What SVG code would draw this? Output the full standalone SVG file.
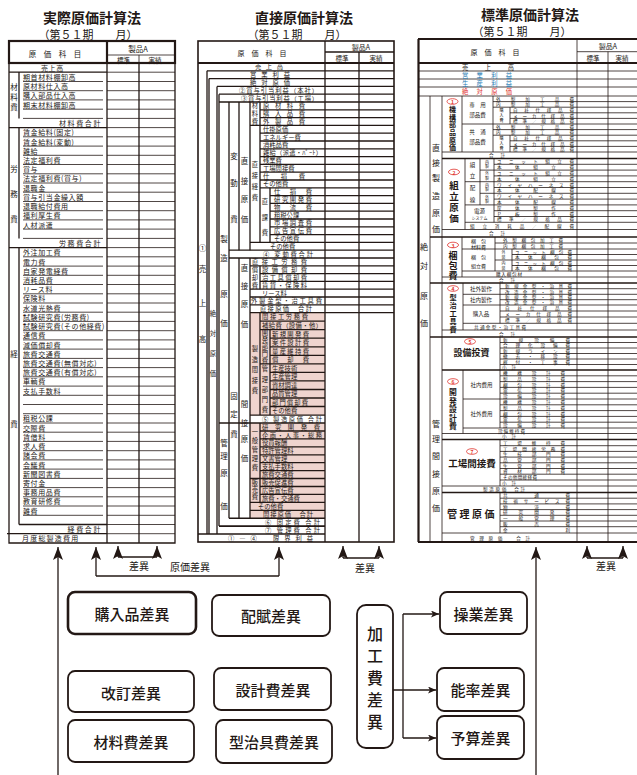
<svg xmlns="http://www.w3.org/2000/svg" width="637" height="775" viewBox="0 0 637 775">
<defs>
<style>
text{font-family:"Noto Sans CJK JP","Noto Sans",sans-serif;fill:#231815;dominant-baseline:central}
.vt{writing-mode:vertical-rl;text-anchor:start}
.ttl{font-size:14px;font-weight:bold;text-anchor:middle}
.sub{font-size:11px;text-anchor:middle}
.h{font-size:7px;text-anchor:middle}
.l{font-size:7px;letter-spacing:0.6px}
.tot{font-size:7px;letter-spacing:1.6px;text-anchor:end}
.m{font-size:6.3px}
.v{font-size:7.5px;text-anchor:middle}
.vs{font-size:6.3px;text-anchor:middle}
.r{font-size:4.6px}
.rc{font-size:5px;text-anchor:middle}
.rt{font-size:6.3px}
.rb{font-weight:bold;text-anchor:middle}
.rs{font-size:5.5px;text-anchor:middle}
.tiny{font-size:4px;text-anchor:middle}
.num{font-size:5px;font-weight:bold;fill:#e0332d;text-anchor:middle}
.oval{fill:#fff;stroke:#e0332d;stroke-width:0.8}
.ln{stroke:#231815;stroke-width:0.8;fill:none}
.lm{stroke:#231815;stroke-width:1.3;fill:none}
.lb{stroke:#231815;stroke-width:1.6;fill:none}
.lx{stroke:#231815;stroke-width:2.2;fill:none}
.box{fill:#fff;stroke:#231815;stroke-width:1.8}
.bt{font-size:15px;font-weight:500;text-anchor:middle}
.lab{font-size:10px;text-anchor:middle}
.con{stroke:#231815;stroke-width:1.3;fill:none}
.pink{fill:#efd4ce}
</style>
<marker id="au" viewBox="0 -5 13 10" refX="13" refY="0" markerWidth="13" markerHeight="10" markerUnits="userSpaceOnUse" orient="auto"><path d="M0,-5 L13,0 L0,5 L3,0 Z" fill="#231815"/></marker>
<marker id="ar" viewBox="0 -3.5 8 7" refX="8" refY="0" markerWidth="8" markerHeight="7" markerUnits="userSpaceOnUse" orient="auto"><path d="M0,-3.5 L8,0 L0,3.5 L2,0 Z" fill="#231815"/></marker>
</defs>
<rect width="637" height="775" fill="#fff"/>

<!-- ===== LEFT TABLE ===== -->
<g id="actual-cost-table">
<text class="ttl" x="92" y="17">実際原価計算法</text>
<text class="sub" x="88" y="34">（第５１期　　月）</text>
<rect x="9" y="41" width="166" height="22" class="lx"/>
<path class="lx" d="M107 41V63"/>
<path class="ln" d="M107 55H175M139 55V63"/>
<path class="lm" d="M9 63V543H175V63M107 63V543M139 63V543"/>
<text class="h" x="55" y="53" style="font-size:7.5px">原　価　科　目</text>
<text class="h" x="138" y="48" style="font-size:7.5px">製品A</text>
<text class="h" x="123.5" y="59.5" style="font-size:6.5px">標準</text>
<text class="h" x="155" y="59.5" style="font-size:6.5px">実績</text>
<path class="ln" d="M107 72.2H175M107 81.5H175M107 90.7H175M107 99.9H175M107 109.2H175M107 118.4H175M107 127.6H175M107 136.8H175M107 146.1H175M107 155.3H175M107 164.5H175M107 173.8H175M107 183H175M107 192.2H175M107 201.5H175M107 210.7H175M107 219.9H175M107 229.1H175M107 238.4H175M107 247.6H175M107 256.8H175M107 266.1H175M107 275.3H175M107 284.5H175M107 293.8H175M107 303H175M107 312.2H175M107 321.4H175M107 330.7H175M107 339.9H175M107 349.1H175M107 358.4H175M107 367.6H175M107 376.8H175M107 386.1H175M107 395.3H175M107 404.5H175M107 413.7H175M107 423H175M107 432.2H175M107 441.4H175M107 450.7H175M107 459.9H175M107 469.1H175M107 478.4H175M107 487.6H175M107 496.8H175M107 506H175M107 515.3H175M107 524.5H175M107 533.7H175"/>
<path class="lm" d="M9 72.2H107M9 127.6H107M9 247.6H107M19 524.5H107M7 533.7H107M19 72.2V118.4M19 127.6V238.4M19 247.6V524.5"/>
<path class="ln" d="M23 81.5H103M23 90.7H103M23 99.9H103M23 109.2H103M23 118.4H103M23 136.8H103M23 146.1H103M23 155.3H103M23 164.5H103M23 173.8H103M23 183H103M23 192.2H103M23 201.5H103M23 210.7H103M23 219.9H103M23 229.1H103M23 238.4H103M23 256.8H103M23 266.1H103M23 275.3H103M23 284.5H103M23 293.8H103M23 303H103M23 312.2H103M23 321.4H103M23 330.7H103M23 339.9H103M23 349.1H103M23 358.4H103M23 367.6H103M23 376.8H103M23 386.1H103M23 395.3H103M23 404.5H103M23 413.7H103M23 423H103M23 432.2H103M23 441.4H103M23 450.7H103M23 459.9H103M23 469.1H103M23 478.4H103M23 487.6H103M23 496.8H103M23 506H103M23 515.3H103"/>
<text class="l" x="41" y="67.6">売上高</text>
<text class="vt" x="14" y="83.3" style="font-size:7.5px;letter-spacing:2.5px">材料費</text>
<text class="v" x="14" y="168">労</text><text class="v" x="14" y="193">務</text><text class="v" x="14" y="218">費</text>
<text class="v" x="14" y="353">経</text><text class="v" x="14" y="423">費</text>
<text class="l" x="23" y="76.8">期首材料棚卸高</text>
<text class="l" x="23" y="86.1">原材料仕入高</text>
<text class="l" x="23" y="95.3">購入部品仕入高</text>
<text class="l" x="23" y="104.5">期末材料棚卸高</text>
<text class="tot" x="102" y="123">材料費合計</text>
<text class="l" x="23" y="132.2">賃金給料(固定)</text>
<text class="l" x="23" y="141.5">賃金給料(変動)</text>
<text class="l" x="23" y="150.7">雑給</text>
<text class="l" x="23" y="159.9">法定福利費</text>
<text class="l" x="23" y="169.2">賞与</text>
<text class="l" x="23" y="178.4">法定福利費(賞与)</text>
<text class="l" x="23" y="187.6">退職金</text>
<text class="l" x="23" y="196.8">賞与引当金繰入額</text>
<text class="l" x="23" y="206.1">退職給付費用</text>
<text class="l" x="23" y="215.3">福利厚生費</text>
<text class="l" x="23" y="224.5">人材派遣</text>
<text class="tot" x="102" y="243">労務費合計</text>
<text class="l" x="23" y="252.2">外注加工費</text>
<text class="l" x="23" y="261.5">電力費</text>
<text class="l" x="23" y="270.7">自家発電経費</text>
<text class="l" x="23" y="279.9">消耗品費</text>
<text class="l" x="23" y="289.1">リース料</text>
<text class="l" x="23" y="298.4">保険料</text>
<text class="l" x="23" y="307.6">水道光熱費</text>
<text class="l" x="23" y="316.8">試験研究費(労務費)</text>
<text class="l" x="23" y="326.1">試験研究費(その他経費)</text>
<text class="l" x="23" y="335.3">通信費</text>
<text class="l" x="23" y="344.5">減価償却費</text>
<text class="l" x="23" y="353.8">旅費交通費</text>
<text class="l" x="23" y="363">旅費交通費(無償対応)</text>
<text class="l" x="23" y="372.2">旅費交通費(有償対応)</text>
<text class="l" x="23" y="381.4">車輌費</text>
<text class="l" x="23" y="390.7">支払手数料</text>
<text class="l" x="23" y="418.4">租税公課</text>
<text class="l" x="23" y="427.6">交際費</text>
<text class="l" x="23" y="436.8">賃借料</text>
<text class="l" x="23" y="446.1">求人費</text>
<text class="l" x="23" y="455.3">諸会費</text>
<text class="l" x="23" y="464.5">会議費</text>
<text class="l" x="23" y="473.8">新聞図書費</text>
<text class="l" x="23" y="483">寄付金</text>
<text class="l" x="23" y="492.2">事務用品費</text>
<text class="l" x="23" y="501.4">教育研修費</text>
<text class="l" x="23" y="510.7">雑費</text>
<text class="tot" x="102" y="529.1">経費合計</text>
<text class="l" x="22" y="538.4" style="letter-spacing:1.2px">月度総製造費用</text>
</g>

<!-- ===== MIDDLE TABLE ===== -->
<g id="direct-cost-table">
<text class="ttl" x="304" y="17">直接原価計算法</text>
<text class="sub" x="297" y="34">（第５１期　　月）</text>
<rect class="pink" x="250" y="312.6" width="75" height="102.5"/>
<rect class="pink" x="250" y="423" width="75" height="95.2"/>
<rect x="198" y="41" width="196" height="501" class="lb"/>
<path class="lx" d="M198 63H394"/>
<path class="lm" d="M325 41V542M359 52V542M325 52H394"/>
<path class="lm" d="M207 70.8H394M209 78.6H394M217 86.4H394M219 94.2H394M219 102H394M260 109.8H394M260 117.6H394M250 125.4H394M260 133.2H394M260 141H394M260 148.8H394M260 156.6H394M260 164.4H394M260 172.2H394M260 180H394M260 187.8H394M270 195.6H394M270 203.4H394M270 211.2H394M270 219H394M270 226.8H394M270 234.6H394M250 242.4H394M229 250.2H394M229 258H394M250 265.8H394M260 273.6H394M260 281.4H394M250 289.2H394M250 297H394M250 304.8H394M250 312.6H394M260 321.1H325M260 329.7H325M270 338.2H325M270 346.8H325M270 355.3H325M260 363.8H325M270 372.4H325M270 380.9H325M270 389.5H325M270 398H325M270 406.5H325M250 415.1H325M219 423H325M260 431H325M260 438.9H325M260 446.8H325M260 454.8H325M260 462.7H325M260 470.6H325M250 478.5H325M260 486.5H325M260 494.4H325M250 502.3H325M250 510.3H325"/>
<path class="lb" d="M229 518.2H325M219 526.1H325M198 534H325"/>
<path class="lm" d="M207 70.8V534M209 78.6V534M217 86.4V534M219 94.2V526.1M229 102V518.2M239 102V250.2M239 258V518.2M250 102V250.2M250 258V518.2M260 102V242.4M260 265.8V289.2M260 312.6V415.1M260 423V502.3M270 187.8V242.4M270 329.7V415.1"/>
<text class="h" x="262" y="52.5">原　価　科　目</text>
<text class="h" x="361" y="46.5">製品A</text>
<text class="h" x="342" y="57.5" style="font-size:6.5px">標準</text>
<text class="h" x="376" y="57.5" style="font-size:6.5px">実績</text>
<!-- vertical labels -->
<text class="v" x="202.5" y="247">①</text><text class="v" x="202.5" y="268">売</text><text class="v" x="202.5" y="302">上</text><text class="v" x="202.5" y="338">高</text>
<text class="vs" x="213" y="313">絶</text><text class="vs" x="213" y="333">対</text><text class="vs" x="213" y="353">原</text><text class="vs" x="213" y="373">価</text>
<text class="v" x="224" y="238">製</text><text class="v" x="224" y="257">造</text><text class="v" x="224" y="293">原</text><text class="v" x="224" y="322">価</text>
<text class="v" x="224" y="442">管</text><text class="v" x="224" y="455">理</text><text class="v" x="224" y="472">原</text><text class="v" x="224" y="505">価</text>
<text class="v" x="234" y="155">変</text><text class="v" x="234" y="182">動</text><text class="v" x="234" y="218">費</text>
<text class="v" x="234" y="395">固</text><text class="v" x="234" y="413">定</text><text class="v" x="234" y="433">費</text>
<text class="v" x="244.5" y="160">直</text><text class="v" x="244.5" y="180">接</text><text class="v" x="244.5" y="198">原</text><text class="v" x="244.5" y="218">価</text>
<text class="v" x="244.5" y="267">直</text><text class="v" x="244.5" y="285">接</text><text class="v" x="244.5" y="303">原</text><text class="v" x="244.5" y="323">価</text>
<text class="v" x="244.5" y="403">間</text><text class="v" x="244.5" y="422">接</text><text class="v" x="244.5" y="438">原</text><text class="v" x="244.5" y="457">価</text>
<g style="font-size:6.3px">
<text class="vt" x="255" y="102.85" style="letter-spacing:1.45px">材料費</text>
<text class="vt" x="255" y="161.85" style="letter-spacing:4.7px">直接経費</text>
<text class="vt" x="265" y="198.85" style="letter-spacing:9.2px">直課費</text>
<text class="vt" x="255" y="266.85" style="letter-spacing:1.45px">償却費</text>
<text class="vt" x="255" y="345.85" style="letter-spacing:4.2px">製造間接費</text>
<text class="vt" x="265" y="329.85" style="letter-spacing:0.7px">開発部門費</text>
<text class="vt" x="265" y="365.85" style="letter-spacing:3.95px">管理部門費</text>
<text class="vt" x="255" y="428.85" style="letter-spacing:2.7px">一般管理費</text>
<text class="vt" x="255" y="479.85" style="letter-spacing:0.7px">販売費</text>
</g>
<!-- rows -->
<text class="m" x="255" y="66.9" textLength="28">売上高</text>
<text class="m" x="250" y="74.7" textLength="40">営業利益</text>
<text class="m" x="250" y="82.5" textLength="40">絶対原価</text>
<text class="m" x="239" y="90.3" textLength="79">②賞与引当利益（本社）</text>
<text class="m" x="241" y="98.1" textLength="77">③賞与引当利益（工場）</text>
<text class="m" x="263" y="105.9" textLength="42">原材料費</text>
<text class="m" x="263" y="113.7" textLength="42">購入品費</text>
<text class="m" x="263" y="121.5" textLength="42">外製品費</text>
<text class="m" x="263" y="129.3">仕掛原価</text>
<text class="m" x="263" y="137.1">エネルギー費</text>
<text class="m" x="263" y="144.9">消耗品費</text>
<text class="m" x="263" y="152.7" textLength="59">雑給（派遣・ﾊﾟｰﾄ）</text>
<text class="m" x="263" y="160.5">残業費</text>
<text class="m" x="263" y="168.3">工場間接費</text>
<text class="m" x="263" y="176.1" textLength="42">仕損費</text>
<text class="m" x="263" y="183.9">その他費</text>
<text class="m" x="274" y="191.7" textLength="38">仕損費</text>
<text class="m" x="274" y="199.5" textLength="38">研究開発費</text>
<text class="m" x="274" y="207.3" textLength="38">物流費</text>
<text class="m" x="274" y="215.1">租税公課</text>
<text class="m" x="274" y="222.9" textLength="38">市場調査費</text>
<text class="m" x="274" y="230.7" textLength="38">広告宣伝費</text>
<text class="m" x="274" y="238.5">その他費</text>
<text class="m" x="270" y="246.3">その他費</text>
<text class="m" x="263" y="254.1" textLength="50">④ 変動費合計</text>
<text class="m" x="252" y="261.9" textLength="55">直接工労務費</text>
<text class="m" x="262" y="269.7" textLength="45">設備償却費</text>
<text class="m" x="262" y="277.5" textLength="45">治工具償却費</text>
<text class="m" x="262" y="285.3" textLength="45">賃貸・保険料</text>
<text class="m" x="262" y="293.1">リース料</text>
<text class="m" x="251" y="300.9" textLength="71">外製金型・治工具費</text>
<text class="m" x="260" y="308.7" textLength="52">直接原価　合計</text>
<text class="m" x="262" y="316.9" textLength="46">間接工労務費</text>
<text class="m" x="262" y="325.4" textLength="60">補給費（設備・他）</text>
<text class="m" x="272" y="334" textLength="37">新規開発費</text>
<text class="m" x="272" y="342.5" textLength="37">案件設計費</text>
<text class="m" x="272" y="351" textLength="37">量産維持費</text>
<text class="m" x="272" y="359.6" textLength="37">償却費</text>
<text class="m" x="272" y="368.1">生産技術</text>
<text class="m" x="272" y="376.7">生産管理</text>
<text class="m" x="272" y="385.2">資材調達</text>
<text class="m" x="272" y="393.7">品質管理</text>
<text class="m" x="272" y="402.3" textLength="36">部門償却費</text>
<text class="m" x="272" y="410.8">その他費</text>
<text class="m" x="262" y="419.1" textLength="60">⑤ 製造原価 合計</text>
<text class="m" x="262" y="427" textLength="58">研究開発費</text>
<text class="m" x="262" y="435" textLength="60">企画・人事・総務</text>
<text class="m" x="262" y="442.9">役員報酬</text>
<text class="m" x="262" y="450.8">特許管理料</text>
<text class="m" x="262" y="458.8">文書管理</text>
<text class="m" x="262" y="466.7">支払手数料</text>
<text class="m" x="262" y="474.6">旅費交通費</text>
<text class="m" x="262" y="482.5">販売促進費</text>
<text class="m" x="262" y="490.5">広告宣伝費</text>
<text class="m" x="262" y="498.4">旅費・交通費</text>
<text class="m" x="258" y="506.3">その他費</text>
<text class="m" x="263" y="514.2" textLength="50">間接原価　合計</text>
<text class="m" x="265" y="522.2" textLength="55">⑥ 固定費 合計</text>
<text class="m" x="265" y="530.1" textLength="55">⑦ 管理費 合計</text>
<text class="m" x="228" y="538" textLength="85">①―④　限界利益</text>
</g>

<!-- ===== RIGHT TABLE ===== -->
<g id="standard-cost-table">
<text class="ttl" x="530" y="14">標準原価計算法</text>
<text class="sub" x="522" y="31">（第５１期　　月）</text>
<path class="lx" d="M418.5 39V542M418 39H637M418 63H637M418 542H637"/>
<path class="ln" d="M577 51.7H637M577 39V542M608 51.7V542M430 96V542M442 96V542"/>
<path class="ln" d="M418 71H637M418 79H637M418 87H637M418 96H637M493 101.6H637M493 107.2H637M510 112.8H637M510 118.4H637M462 124H637M493 129.6H637M493 135.2H637M510 140.8H637M510 146.4H637M442 152H637M494 164.3H637M480 170.1H637M494 175.9H637M465 181.7H637M494 187.5H637M480 193.3H637M494 199.1H637M465 204.9H637M494 210.7H637M494 216.5H637M465 222.3H637M442 229.5H637M495 243H637M462 249H637M512 254.5H637M495 260H637M512 265.5H637M462 271H637M442 277H637M500 288.7H637M463 294.3H637M500 299.7H637M463 305H637M500 311H637M500 317H637M463 323.3H637M442 330H637M500 342.5H637M500 348H637M500 353.5H637M500 359H637M500 364.5H637M500 375.8H637M500 381.6H637M500 387.4H637M500 393.2H637M463 399H637M500 404.8H637M500 410.6H637M500 416.4H637M500 422.2H637M463 428H637M442 433.5H637M500 445.7H637M500 451.4H637M500 457.1H637M500 462.8H637M500 468.5H637M500 474.2H637M500 480H637M442 486H637M500 498.2H637M500 503.9H637M500 509.6H637M500 515.3H637M500 521H637M500 526.7H637M442 533H637"/>
<path class="lm" d="M442 158.5H637M430 237H637M430 283H637M430 337H637M442 370H637M442 439.5H637M442 492.5H637"/>
<path class="ln" d="M462 96V152M493 96V152M510 107.2V124M510 135.2V152M465 158.5V229.5M480 158.5V204.9M494 158.5V222.3M462 237V277M495 237V271M512 249V271M463 283V330M500 283V323.3M500 337V370M463 370V433.5M500 370V428M500 439.5V486M500 492.5V533"/>
<text class="h" x="495" y="52">原　価　科　目</text>
<text class="h" x="608" y="45.5">製品A</text>
<text class="h" x="593" y="57.5" style="font-size:6.5px">標準</text>
<text class="h" x="622" y="57.5" style="font-size:6.5px">実績</text>
<text class="rt" x="462" y="67" textLength="52">売上高</text>
<text class="rt" x="462" y="75" textLength="50" style="fill:#2a7db5">営業利益</text>
<text class="rt" x="462" y="83" textLength="50" style="fill:#2a7db5">生産利益</text>
<text class="rt" x="462" y="91" textLength="50" style="fill:#e0332d">絶対原価</text>
<!-- big vertical labels -->
<text class="v" x="424" y="246" style="font-size:8px">絶</text><text class="v" x="424" y="265" style="font-size:8px">対</text><text class="v" x="424" y="295" style="font-size:8px">原</text><text class="v" x="424" y="322" style="font-size:8px">価</text>
<text class="v" x="436" y="147" style="font-size:8px">直</text><text class="v" x="436" y="162" style="font-size:8px">接</text><text class="v" x="436" y="177" style="font-size:8px">製</text><text class="v" x="436" y="195" style="font-size:8px">造</text><text class="v" x="436" y="212" style="font-size:8px">原</text><text class="v" x="436" y="228" style="font-size:8px">価</text>
<text class="v" x="436" y="423" style="font-size:8px">管</text><text class="v" x="436" y="438" style="font-size:8px">理</text><text class="v" x="436" y="455" style="font-size:8px">間</text><text class="v" x="436" y="473" style="font-size:8px">接</text><text class="v" x="436" y="490" style="font-size:8px">原</text><text class="v" x="436" y="507" style="font-size:8px">価</text>
<!-- block labels -->
<ellipse class="oval" cx="452.5" cy="101.5" rx="5.5" ry="2.8"/><text class="num" x="452.5" y="101.6">1</text>
<text class="vt" x="452.5" y="106" style="font-size:7px;font-weight:bold;letter-spacing:0.6px">機構部品原価</text>
<ellipse class="oval" cx="454" cy="172" rx="5.5" ry="2.8"/><text class="num" x="454" y="172.1">2</text>
<text class="vt" x="454" y="180.25" style="font-size:9.5px;font-weight:bold;letter-spacing:1.5px">組立原価</text>
<ellipse class="oval" cx="453" cy="245" rx="5.5" ry="2.8"/><text class="num" x="453" y="245.1">3</text>
<text class="vt" x="453" y="251" style="font-size:9px;font-weight:bold;letter-spacing:1px">梱包費</text>
<ellipse class="oval" cx="453" cy="288.5" rx="5.5" ry="2.8"/><text class="num" x="453" y="288.6">4</text>
<text class="vt" x="453" y="293.9" style="font-size:7.2px;font-weight:bold;letter-spacing:0.8px">型治工具費</text>
<ellipse class="oval" cx="470" cy="341.5" rx="5.5" ry="2.8"/><text class="num" x="470" y="341.6">5</text>
<text class="rb" x="471.5" y="352.5" style="font-size:9px">設備投資</text>
<ellipse class="oval" cx="453" cy="381.5" rx="5.5" ry="2.8"/><text class="num" x="453" y="381.6">6</text>
<text class="vt" x="453" y="388.6" style="font-size:7.8px;font-weight:bold;letter-spacing:0.7px">開発設計費</text>
<ellipse class="oval" cx="472" cy="451.5" rx="5.5" ry="2.8"/><text class="num" x="472" y="451.6">7</text>
<text class="rb" x="472" y="463" style="font-size:9.5px">工場間接費</text>
<text class="rb" x="472" y="513.5" style="font-size:10px;letter-spacing:2.5px">管理原価</text>
<!-- sub box labels -->
<text class="rs"><tspan x="477.5" y="105">専　用</tspan><tspan x="477.5" y="115">部品費</tspan></text>
<text class="rs"><tspan x="477.5" y="131.5">共　通</tspan><tspan x="477.5" y="141.5">部品費</tspan></text>
<text class="vt" x="501.5" y="108.5" style="font-size:4px;letter-spacing:1px">購入費</text>
<text class="vt" x="501.5" y="136.5" style="font-size:4px;letter-spacing:1px">購入費</text>
<text class="rs" x="472.5" y="164.5">組</text><text class="rs" x="472.5" y="176">立</text>
<text class="rs" x="472.5" y="188">配</text><text class="rs" x="472.5" y="199.5">線</text>
<text class="vt" x="487" y="160" style="font-size:4px;letter-spacing:0.5px">内製</text>
<text class="vt" x="487" y="171.5" style="font-size:4px;letter-spacing:0.5px">外製</text>
<text class="vt" x="487" y="183" style="font-size:4px;letter-spacing:0.5px">内製</text>
<text class="vt" x="487" y="195" style="font-size:4px;letter-spacing:0.5px">外製</text>
<text class="rs"><tspan x="479.5" y="210.5">電源</tspan><tspan x="479.5" y="217.5" style="font-size:4px">システム</tspan></text>
<text class="rc"><tspan x="478.5" y="240">梱　包</tspan><tspan x="478.5" y="246">材料費</tspan></text>
<text class="rc"><tspan x="478.5" y="255.5">梱　包</tspan><tspan x="478.5" y="264.5">組立費</tspan></text>
<text class="vt" x="503.5" y="250" style="font-size:4px;letter-spacing:1px">外装</text>
<text class="vt" x="503.5" y="261" style="font-size:4px;letter-spacing:1px">内装</text>
<text class="rs" x="481" y="289">社外製作</text>
<text class="rs" x="481" y="299.7">社内製作</text>
<text class="rs" x="481" y="314">購入品</text>
<text class="rs" x="481.5" y="384.5">社内費用</text>
<text class="rs" x="481.5" y="413.5">社外費用</text>
<!-- row texts -->
<g class="r">
<text x="496" y="98.8" textLength="78">外製加工品費</text>
<text x="496" y="104.4" textLength="78">内製加工品費</text>
<text x="513" y="110" textLength="61">自社仕様品費</text>
<text x="513" y="115.6" textLength="61">メーカ仕様品費</text>
<text x="513" y="121.2" textLength="61">標準／規格品費</text>
<text x="496" y="126.8" textLength="78">外製加工品費</text>
<text x="496" y="132.4" textLength="78">内製加工品費</text>
<text x="513" y="138" textLength="61">自社仕様品費</text>
<text x="513" y="143.6" textLength="61">メーカ仕様品費</text>
<text x="513" y="149.2" textLength="61">標準／規格品費</text>
<text x="489" y="155.2" textLength="16">合計</text>
<text x="497" y="161.4" textLength="77">ユニット組立費</text>
<text x="497" y="167.2" textLength="77">本体組立費</text>
<text x="497" y="173" textLength="77">ユニット組立費</text>
<text x="497" y="178.8" textLength="77">本体組立費</text>
<text x="497" y="184.6" textLength="77">ワイヤハーネス費</text>
<text x="497" y="190.4" textLength="77">本体配線費</text>
<text x="497" y="196.2" textLength="77">ワイヤハーネス費</text>
<text x="497" y="202" textLength="77">本体配線費</text>
<text x="497" y="207.8" textLength="77">筐体製作費</text>
<text x="497" y="213.6" textLength="77">Ｐ板製作費</text>
<text x="497" y="219.4" textLength="77">標準／規格品費</text>
<text x="470" y="225.9" textLength="104">組立消耗品／配線費</text>
<text x="489" y="233" textLength="16">合計</text>
<text x="503" y="240" textLength="60">外製梱包加工費</text>
<text x="503" y="246" textLength="60">内製梱包加工費</text>
<text x="515" y="251.75" textLength="57">ユニット梱包費</text>
<text x="515" y="257.25" textLength="57">本体梱包費</text>
<text x="515" y="262.75" textLength="57">ユニット梱包費</text>
<text x="515" y="268.25" textLength="57">本体梱包費</text>
<text x="496" y="274" textLength="26">購入梱包材</text>
<text x="499" y="280" textLength="16">合計</text>
<text x="505" y="285.85" textLength="67">新規金型・治具費</text>
<text x="505" y="291.5" textLength="67">改造金型・治具費</text>
<text x="505" y="297" textLength="67">新規金型・治具費</text>
<text x="505" y="302.35" textLength="67">改造金型・治具費</text>
<text x="505" y="308" textLength="67">自社仕様品費</text>
<text x="505" y="314" textLength="67">メーカ仕様品費</text>
<text x="505" y="320.15" textLength="67">標準／規格品費</text>
<text x="474" y="326.65" textLength="52">共通金型・治工具費</text>
<text x="499" y="333.5" textLength="16">合計</text>
<text x="503" y="339.75" textLength="67">新規設備費</text>
<text x="503" y="345.25" textLength="67">合理化設備費</text>
<text x="503" y="350.75" textLength="67">新規ライン費</text>
<text x="503" y="356.25" textLength="67">撤去・移設費</text>
<text x="503" y="361.75" textLength="67">据付・工事費</text>
<text x="502" y="367.25" textLength="14">小計</text>
<text x="503" y="372.9" textLength="62">機構設計費</text>
<text x="503" y="378.7" textLength="62">製品設計費</text>
<text x="503" y="384.5" textLength="62">梱包設計費</text>
<text x="503" y="390.3" textLength="62">電気設計費</text>
<text x="503" y="396.1" textLength="62">設備設計費</text>
<text x="503" y="401.9" textLength="62">機構設計費</text>
<text x="503" y="407.7" textLength="62">製品設計費</text>
<text x="503" y="413.5" textLength="62">梱包設計費</text>
<text x="503" y="419.3" textLength="62">電気設計費</text>
<text x="503" y="425.1" textLength="62">設備設計費</text>
<text x="498" y="430.75" textLength="27">設備維持費</text>
<text x="502" y="436.25" textLength="14">小計</text>
<text x="503" y="442.6" textLength="62">工場維持費</text>
<text x="503" y="448.55" textLength="62">工場間接労務費</text>
<text x="503" y="454.25" textLength="62">生技部門費</text>
<text x="503" y="459.95" textLength="62">品管部門費</text>
<text x="503" y="465.65" textLength="62">生管部門費</text>
<text x="503" y="471.35" textLength="62">資材部門費</text>
<text x="503" y="477.1" textLength="34">その他間接経費</text>
<text x="502" y="483" textLength="14">小計</text>
<text x="483" y="489.25" textLength="42">製造原価　合計</text>
<text x="503" y="495.35" textLength="67">共通費</text>
<text x="503" y="501.05" textLength="67">技術サービス費</text>
<text x="503" y="506.75" textLength="67">物流費</text>
<text x="503" y="512.45" textLength="67">研究開発費</text>
<text x="503" y="518.15" textLength="67">一般管理費</text>
<text x="503" y="523.85" textLength="67">販売費</text>
<text x="503" y="529.85" textLength="67">金利</text>
<text x="470" y="537.5" textLength="60">管理原価　合計</text>
</g>
</g>

<!-- ===== BOTTOM NODES ===== -->
<g id="node-purchase"><rect x="68" y="592" width="128" height="42" rx="7" class="box" style="stroke-width:2.6"/><text class="bt" x="132" y="613">購入品差異</text></g>
<g id="node-allocation"><rect x="212" y="595" width="118" height="41" rx="7" class="box"/><text class="bt" x="271" y="615.5">配賦差異</text></g>
<g id="node-revision"><rect x="68" y="671" width="126" height="41" rx="7" class="box"/><text class="bt" x="131" y="692">改訂差異</text></g>
<g id="node-design"><rect x="214" y="668" width="117" height="42" rx="7" class="box"/><text class="bt" x="273" y="689">設計費差異</text></g>
<g id="node-material"><rect x="68" y="720" width="126" height="42" rx="7" class="box"/><text class="bt" x="131" y="741">材料費差異</text></g>
<g id="node-tooling"><rect x="216" y="720" width="116" height="43" rx="7" class="box"/><text class="bt" x="274" y="741.5">型治具費差異</text></g>
<g id="node-processing"><rect x="357" y="605" width="36" height="143" rx="9" class="box"/>
<text class="vt" x="375" y="626" style="font-size:16px;font-weight:500;letter-spacing:6px">加工費差異</text></g>
<g id="node-operation"><rect x="440" y="592" width="87" height="42" rx="7" class="box"/><text class="bt" x="483.5" y="613">操業差異</text></g>
<g id="node-efficiency"><rect x="437" y="668" width="87" height="43" rx="7" class="box"/><text class="bt" x="480.5" y="689.5">能率差異</text></g>
<g id="node-budget"><rect x="437" y="716" width="87" height="43" rx="7" class="box"/><text class="bt" x="480.5" y="737.5">予算差異</text></g>

<!-- ===== CONNECTORS ===== -->
<g id="connectors">
<path class="con" d="M58 775V547" marker-end="url(#au)"/>
<path class="con" d="M96 576V547" marker-end="url(#au)"/>
<path class="con" d="M96 576H279"/>
<path class="con" d="M279 576V547" marker-end="url(#au)"/>
<path class="con" d="M118 557H157"/>
<path class="con" d="M118 557V546" marker-end="url(#au)"/>
<path class="con" d="M157 557V546" marker-end="url(#au)"/>
<path class="con" d="M343 558H379"/>
<path class="con" d="M343 558V546" marker-end="url(#au)"/>
<path class="con" d="M379 558V546" marker-end="url(#au)"/>
<path class="con" d="M587 558H623"/>
<path class="con" d="M587 558V546" marker-end="url(#au)"/>
<path class="con" d="M623 558V546" marker-end="url(#au)"/>
<path class="con" d="M536 775V547" marker-end="url(#au)"/>
<path class="con" d="M393 690H403M403 614V738"/>
<path class="con" d="M403 614H439" marker-end="url(#ar)"/>
<path class="con" d="M403 690H436" marker-end="url(#ar)"/>
<path class="con" d="M403 738H436" marker-end="url(#ar)"/>
<text class="lab" x="139" y="565">差異</text>
<text class="lab" x="190" y="566">原価差異</text>
<text class="lab" x="365" y="567">差異</text>
<text class="lab" x="606" y="565">差異</text>
</g>
</svg>
